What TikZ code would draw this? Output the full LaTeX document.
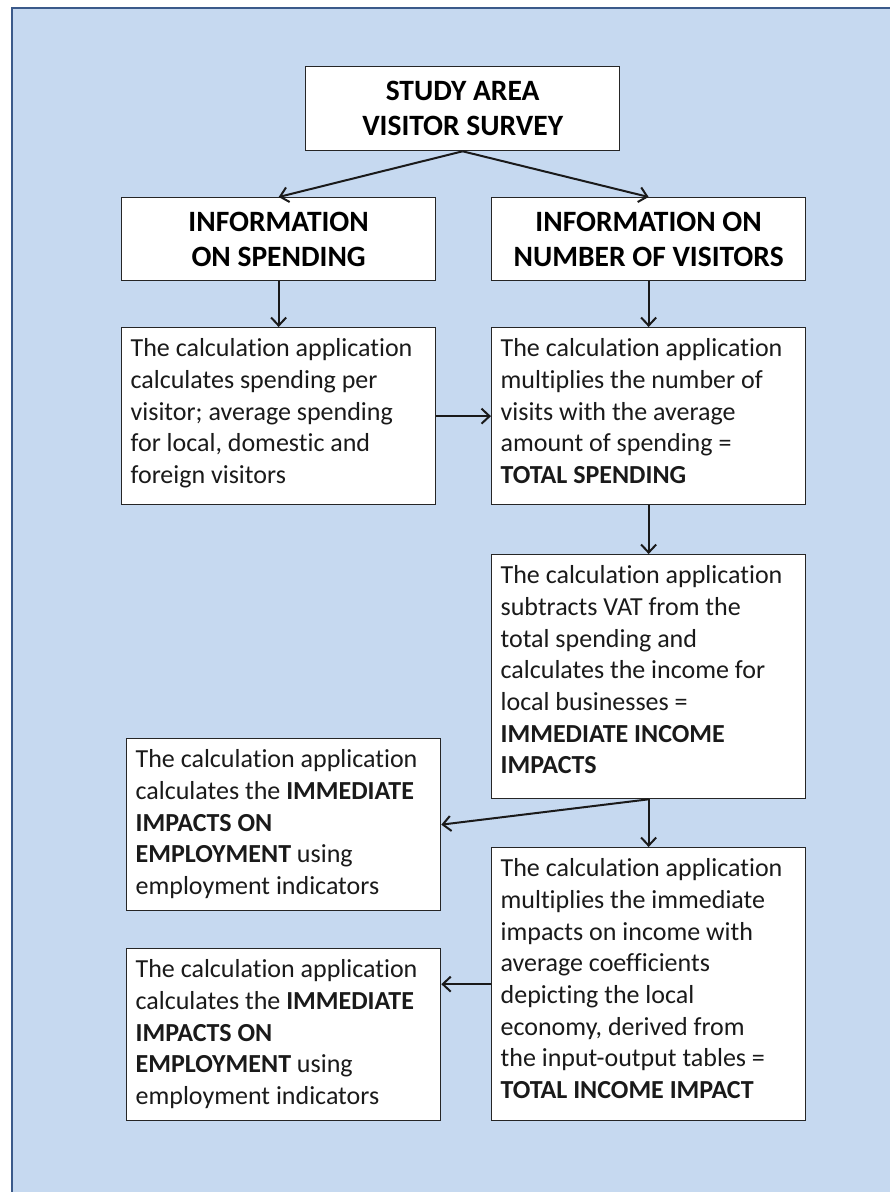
\documentclass[tikz,border=0pt]{standalone}
\usepackage{fontspec}
\setmainfont{Carlito}[Ligatures=NoCommon]
\usetikzlibrary{arrows.meta}
\definecolor{bgblue}{HTML}{C6D9F0}
\definecolor{frameblue}{HTML}{3B5A8A}
\definecolor{ink}{HTML}{1A1A1A}
\newcommand\bodytext[2]{\parbox[c][#1][t]{296pt}{\fontsize{26pt}{31.7pt}\selectfont\rule{0pt}{29pt}#2}}
\begin{document}
\begin{tikzpicture}[x=1pt,y=-1pt,
  headbox/.style={draw=black!85, line width=1.3pt, fill=white, anchor=north west,
    minimum width=314pt, align=center, text=black, inner sep=0pt,
    font=\fontsize{29.5pt}{35pt}\selectfont\bfseries},
  bodybox/.style={draw=black!85, line width=1.3pt, fill=white, anchor=north west,
    inner xsep=9pt, inner ysep=0pt, text=ink},
  arr/.style={-{Straight Barb[length=8pt,width=15pt]}, line width=2pt, draw=ink}]
\useasboundingbox (0,0) rectangle (890,1192);
\fill[bgblue] (12,8) rectangle (892,1194);
\draw[frameblue, line width=2.5pt] (12,1194) -- (12,8) -- (892,8);

\node[headbox, minimum height=84pt] (top) at (305,66) {STUDY AREA\\VISITOR SURVEY};
\node[headbox, minimum height=83pt] (i1) at (121,197) {INFORMATION\\ON SPENDING};
\node[headbox, minimum height=83pt] (i2) at (491,197) {INFORMATION ON\\NUMBER OF VISITORS};

\node[bodybox] (A) at (121,327) {\bodytext{177pt}{The calculation application\\calculates spending per\\visitor; average spending\\for local, domestic and\\foreign visitors}};
\node[bodybox] (B) at (491,327) {\bodytext{177pt}{The calculation application\\multiplies the number of\\visits with the average\\amount of spending =\\\textbf{TOTAL SPENDING}}};
\node[bodybox] (C) at (491,554) {\bodytext{244pt}{The calculation application\\subtracts VAT from the\\total spending and\\calculates the income for\\local businesses =\\\textbf{IMMEDIATE INCOME}\\\textbf{IMPACTS}}};
\node[bodybox] (D) at (126,738) {\bodytext{172pt}{The calculation application\\calculates the \textbf{IMMEDIATE}\\\textbf{IMPACTS ON}\\\textbf{EMPLOYMENT} using\\employment indicators}};
\node[bodybox] (E) at (491,847) {\bodytext{273pt}{The calculation application\\multiplies the immediate\\impacts on income with\\average coefficients\\depicting the local\\economy, derived from\\the input-output tables =\\\textbf{TOTAL INCOME IMPACT}}};
\node[bodybox] (F) at (126,948) {\bodytext{172pt}{The calculation application\\calculates the \textbf{IMMEDIATE}\\\textbf{IMPACTS ON}\\\textbf{EMPLOYMENT} using\\employment indicators}};

\draw[arr] (top.south) -- (i1.north);
\draw[arr] (top.south) -- (i2.north);
\draw[arr] (i1.south) -- (A.north);
\draw[arr] (i2.south) -- (B.north);
\draw[arr] (A.east) -- (B.west);
\draw[arr] (B.south) -- (C.north);
\draw[arr] (C.south) -- (D.east);
\draw[arr] (C.south) -- (E.north);
\draw[arr] (E.west) -- (E.west -| F.east);
\end{tikzpicture}
\end{document}
